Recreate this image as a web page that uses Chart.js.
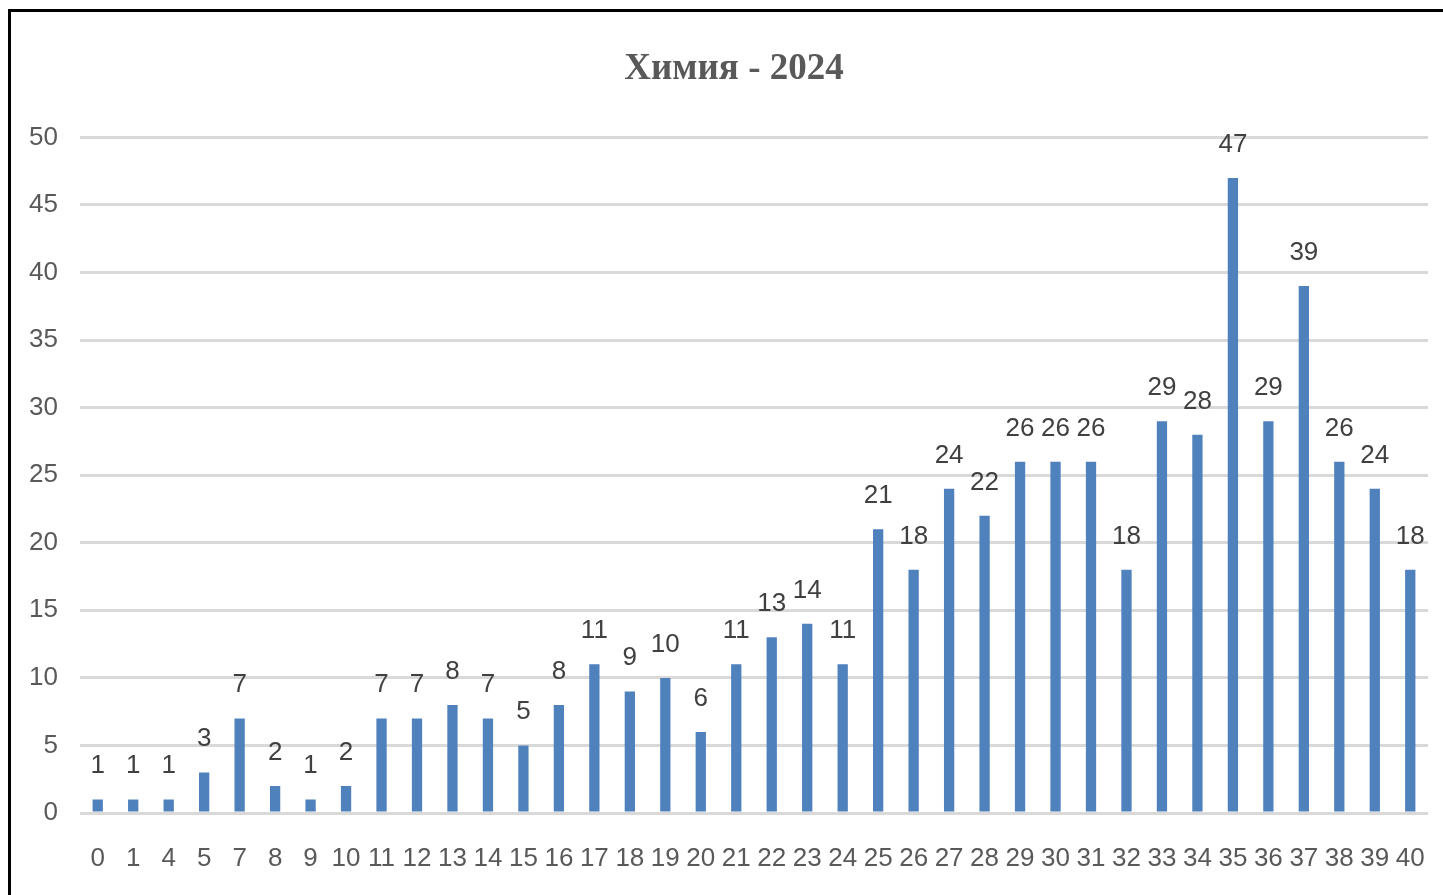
<!DOCTYPE html>
<html>
<head>
<meta charset="utf-8">
<script src="https://cdn.jsdelivr.net/npm/chart.js@4"></script>
<style>
  html, body { margin: 0; background: #fff; overflow: hidden; }
  #frame {
    position: absolute; left: 8px; top: 9px;
    width: 1432px; height: 883px;
    border-left: 3px solid #000; border-top: 3px solid #000;
  }
  #wrap { position: absolute; left: 0; top: 2px; width: 1432px; height: 881px; }
</style>
</head>
<body>
<div id="frame"><div id="wrap"><canvas id="myChart"></canvas></div></div>
<script>
const labels = ['0', '1', '4', '5', '7', '8', '9', '10', '11', '12', '13', '14', '15', '16', '17', '18', '19', '20',
  '21', '22', '23', '24', '25', '26', '27', '28', '29', '30', '31', '32', '33', '34', '35', '36', '37', '38', '39', '40'];
const counts = [1, 1, 1, 3, 7, 2, 1, 2, 7, 7, 8, 7, 5, 8, 11, 9, 10, 6, 11, 13, 14, 11,
  21, 18, 24, 22, 26, 26, 26, 18, 29, 28, 47, 29, 39, 26, 24, 18];
const yMax = 50;
const yStep = 5;
const chartTitle = 'Химия - 2024';

const tickFont = { family: '"Liberation Sans", sans-serif', size: 26 };

// draws the value above every bar
const barValues = {
  id: 'barValues',
  afterLayout(chart) {
    // title in the original sits a bit right of the canvas centre
    if (chart.titleBlock) chart.titleBlock.left += 15;
  },
  afterDatasetsDraw(chart) {
    const c = chart.ctx;
    const meta = chart.getDatasetMeta(0);
    c.save();
    c.font = '26px "Liberation Sans", sans-serif';
    c.fillStyle = '#404040';
    c.textAlign = 'center';
    c.textBaseline = 'alphabetic';
    meta.data.forEach((bar, i) => {
      c.fillText(String(counts[i]), bar.x, bar.y - 26);
    });
    c.restore();
  }
};

const ctx = document.querySelector('#myChart').getContext('2d');
const myChart = new Chart(ctx, {
  type: 'bar',
  data: {
    labels,
    datasets: [{
      data: counts,
      backgroundColor: '#4f81bd',
      barPercentage: 0.29,
      categoryPercentage: 1
    }]
  },
  options: {
    responsive: true,
    maintainAspectRatio: false,
    animation: false,
    layout: { padding: { left: 14, right: 15, top: 0, bottom: 0 } },
    plugins: {
      legend: { display: false },
      tooltip: { enabled: false },
      title: {
        display: true,
        text: chartTitle,
        color: '#595959',
        font: { family: '"Liberation Serif", serif', size: 37, weight: 'bold', lineHeight: 1.2 },
        padding: { top: 33, bottom: 46 }
      }
    },
    scales: {
      x: {
        grid: { display: false, drawTicks: false },
        border: { display: false },
        ticks: { color: '#595959', font: tickFont, padding: 30, maxRotation: 0, autoSkip: false },
        afterFit(scale) {
          scale.height = 82;
          scale.paddingLeft = 0;
          scale.paddingRight = 0;
        }
      },
      y: {
        min: 0,
        max: yMax,
        grid: { color: '#d9d9d9', lineWidth: 3, drawTicks: false },
        border: { display: false },
        ticks: { stepSize: yStep, color: '#595959', font: tickFont, padding: 22 },
        afterFit(scale) { scale.width = 55; }
      }
    }
  },
  plugins: [barValues]
});
</script>
</body>
</html>
